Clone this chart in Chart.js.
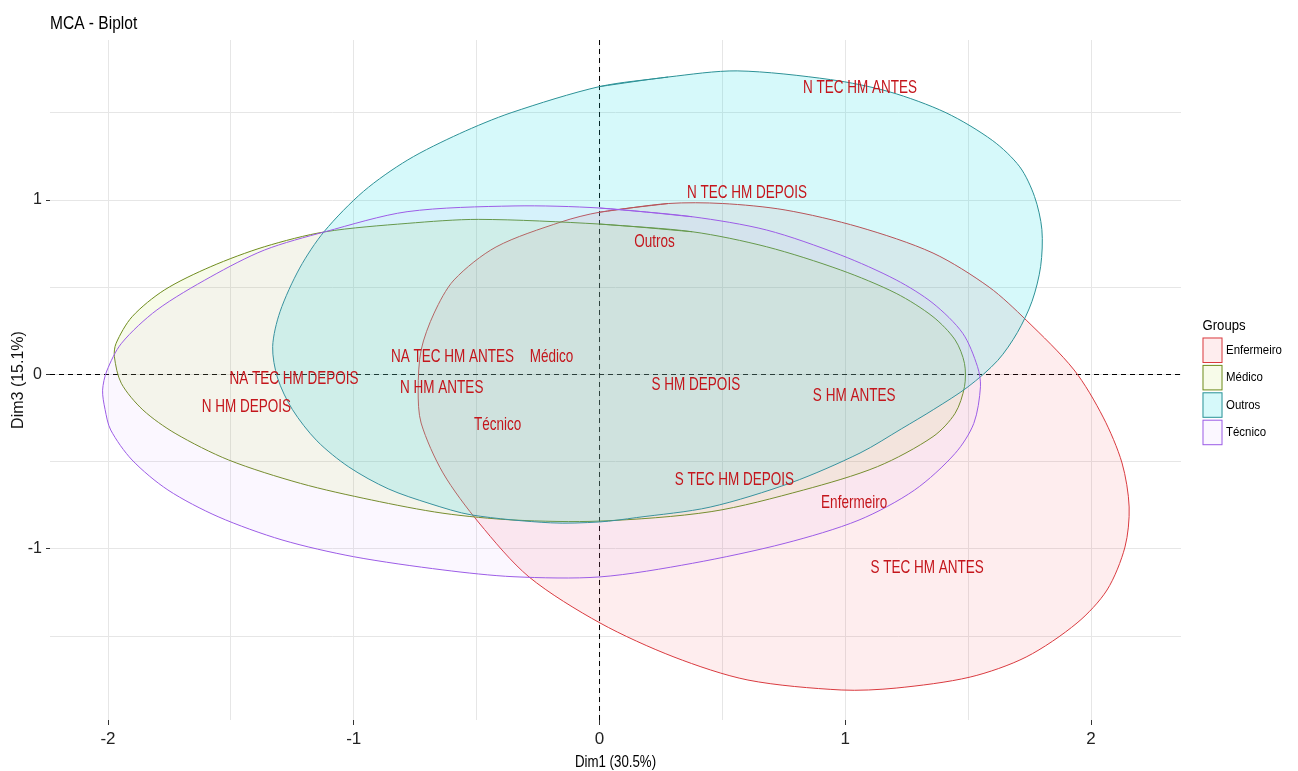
<!DOCTYPE html>
<html>
<head>
<meta charset="utf-8">
<title>MCA - Biplot</title>
<script src="https://cdn.jsdelivr.net/npm/chart.js@4/dist/chart.umd.min.js"></script>
<style>
  html, body { margin: 0; padding: 0; background: #ffffff; }
  #wrap { width: 1298px; height: 771px; position: relative; }
</style>
</head>
<body>
<div id="wrap"><canvas id="biplot"></canvas></div>
<script>
// Axis limits and grid positions (Dim1 horizontal, Dim3 vertical)
const X_LIMITS = [-2.236, 2.366];
const Y_LIMITS = [-1.98, 1.917];
const X_GRID = [-2, -1.5, -1, -0.5, 0, 0.5, 1, 1.5, 2];
const Y_GRID = [-1.5, -1, -0.5, 0, 0.5, 1, 1.5];

// Group names (legend order)
const GROUPS = ['Enfermeiro', 'Médico', 'Outros', 'Técnico'];

// Confidence ellipse outlines, one [Dim1, Dim3] pair per vertex
const ellipseEnfermeiro = [
  [0.00, 0.93], [0.28, 0.98], [0.50, 0.98], [0.755, 0.943], [1.056, 0.845], [1.357, 0.696],
  [1.585, 0.501], [1.736, 0.312], [1.931, 0.026], [2.049, -0.244], [2.126, -0.507], [2.155, -0.759],
  [2.138, -0.989], [2.065, -1.235], [1.943, -1.424], [1.736, -1.619], [1.508, -1.734], [1.207, -1.797],
  [0.983, -1.808], [0.604, -1.751], [0.303, -1.619], [0.002, -1.424], [-0.287, -1.160], [-0.490, -0.851],
  [-0.637, -0.564], [-0.726, -0.278], [-0.738, -0.089], [-0.726, 0.140], [-0.673, 0.352], [-0.592, 0.542],
  [-0.421, 0.731], [-0.157, 0.874]
];
const ellipseMedico = [
  [0.002, 0.862], [0.378, 0.818], [0.680, 0.732], [0.981, 0.599], [1.207, 0.465], [1.357, 0.331],
  [1.447, 0.198], [1.485, 0.064], [1.485, -0.070], [1.447, -0.222], [1.357, -0.356], [1.131, -0.528],
  [0.830, -0.662], [0.454, -0.786], [0.002, -0.840], [-0.348, -0.834], [-0.637, -0.795], [-0.928, -0.719],
  [-1.217, -0.624], [-1.509, -0.490], [-1.727, -0.337], [-1.858, -0.203], [-1.946, -0.050], [-1.974, 0.102],
  [-1.967, 0.179], [-1.902, 0.331], [-1.771, 0.484], [-1.582, 0.618], [-1.364, 0.732], [-1.116, 0.818],
  [-0.783, 0.866], [-0.492, 0.889]
];
const ellipseOutros = [
  [0.00, 1.65], [0.28, 1.705], [0.56, 1.74], [0.94, 1.69], [1.18, 1.62], [1.41, 1.50], [1.60, 1.34],
  [1.71, 1.19], [1.77, 1.02], [1.80, 0.83], [1.795, 0.62], [1.76, 0.42], [1.70, 0.24], [1.62, 0.08],
  [1.50, -0.07], [1.36, -0.20], [1.23, -0.31], [1.06, -0.45], [0.78, -0.62], [0.45, -0.76], [0.15, -0.82],
  [0.00, -0.845], [-0.20, -0.85], [-0.52, -0.805], [-0.69, -0.74], [-0.86, -0.655], [-1.02, -0.53],
  [-1.15, -0.38], [-1.25, -0.20], [-1.31, -0.02], [-1.33, 0.16], [-1.30, 0.36], [-1.22, 0.61],
  [-1.12, 0.82], [-0.96, 1.05], [-0.78, 1.23], [-0.57, 1.38], [-0.36, 1.50]
];
const ellipseTecnico = [
  [0.002, 0.954], [0.378, 0.904], [0.680, 0.828], [0.981, 0.685], [1.207, 0.542], [1.357, 0.408],
  [1.478, 0.236], [1.538, 0.045], [1.550, -0.070], [1.523, -0.280], [1.447, -0.452], [1.282, -0.662],
  [1.056, -0.834], [0.755, -0.967], [0.378, -1.082], [0.002, -1.160], [-0.348, -1.159], [-0.637, -1.120],
  [-1.001, -1.044], [-1.292, -0.948], [-1.552, -0.815], [-1.756, -0.662], [-1.902, -0.490], [-1.989, -0.318],
  [-2.012, -0.200], [-2.022, -0.090], [-2.005, 0.020], [-1.945, 0.179], [-1.801, 0.370], [-1.582, 0.560],
  [-1.364, 0.713], [-1.117, 0.818], [-0.783, 0.933], [-0.348, 0.966]
];

// Category / group coordinates shown as text
const POINT_LABELS = ['N TEC HM ANTES', 'N TEC HM DEPOIS', 'Outros', 'NA TEC HM ANTES', 'Médico',
  'NA TEC HM DEPOIS', 'N HM ANTES', 'N HM DEPOIS', 'Técnico', 'S HM DEPOIS', 'S HM ANTES',
  'S TEC HM DEPOIS', 'Enfermeiro', 'S TEC HM ANTES'];
const POINT_DIM1 = [1.060, 0.600, 0.224, -0.598, -0.195, -1.243, -0.642, -1.437, -0.415, 0.392, 1.036, 0.549, 1.036, 1.333];
const POINT_DIM3 = [1.640, 1.038, 0.759, 0.102, 0.102, -0.028, -0.079, -0.188, -0.289, -0.057, -0.123, -0.606, -0.736, -1.106];

// Styling
const FONT = "'Liberation Sans', Arial, Helvetica, sans-serif";
const GROUP_LINE = ['#D93A3F', '#6F8C1E', '#2C9196', '#9C5CE6'];
const GROUP_FILL = ['rgba(245,60,70,0.09)', 'rgba(175,220,40,0.10)', 'rgba(0,220,225,0.16)', 'rgba(210,150,255,0.08)'];
const LABEL_COLOR = '#C4161C';

// Close an outline: repeat the first two vertices so the spline joins smoothly
function closedOutline(vertices) {
  const pts = vertices.map(([x, y]) => ({ x, y }));
  return pts.concat([pts[0], pts[1]]);
}

const outlines = [ellipseEnfermeiro, ellipseMedico, ellipseOutros, ellipseTecnico];
const ellipseDatasets = GROUPS.map((g, i) => ({
  label: g,
  data: closedOutline(outlines[i]),
  showLine: true,
  fill: 'shape',
  backgroundColor: GROUP_FILL[i],
  borderColor: GROUP_LINE[i],
  borderWidth: 1,
  pointRadius: 0,
  pointHoverRadius: 0,
  tension: 0.3,
  order: 4 - i
}));

const refLines = [
  {
    label: 'dim1-zero',
    data: [{ x: X_LIMITS[0], y: 0 }, { x: X_LIMITS[1], y: 0 }],
    showLine: true, fill: false, borderColor: '#000000', borderWidth: 1,
    borderDash: [5, 4], pointRadius: 0, order: 10
  },
  {
    label: 'dim3-zero',
    data: [{ x: 0, y: Y_LIMITS[0] }, { x: 0, y: Y_LIMITS[1] }],
    showLine: true, fill: false, borderColor: '#000000', borderWidth: 1,
    borderDash: [5, 4], pointRadius: 0, order: 10
  }
];

const labelDataset = {
  label: 'categories',
  data: POINT_DIM1.map((x, i) => ({ x, y: POINT_DIM3[i] })),
  pointRadius: 0,
  pointHoverRadius: 0,
  showLine: false,
  order: 0
};

function drawScaledText(ctx, text, x, y, opts) {
  ctx.save();
  ctx.translate(x, y);
  ctx.scale(opts.sx, 1);
  ctx.font = `${opts.size}px ${FONT}`;
  ctx.fillStyle = opts.color;
  ctx.textAlign = opts.align || 'left';
  ctx.textBaseline = opts.baseline || 'alphabetic';
  ctx.fillText(text, 0, 0);
  ctx.restore();
}

// Text labels, title, x-axis title and group legend
const biplotDecor = {
  id: 'biplotDecor',
  afterDatasetsDraw(chart) {
    const ctx = chart.ctx;
    const idx = chart.data.datasets.indexOf(labelDataset);
    const meta = chart.getDatasetMeta(idx);
    meta.data.forEach((pt, i) => {
      drawScaledText(ctx, POINT_LABELS[i], pt.x, pt.y,
        { sx: 0.73, size: 18.5, color: LABEL_COLOR, align: 'center', baseline: 'middle' });
    });
  },
  afterDraw(chart) {
    const ctx = chart.ctx;
    const area = chart.chartArea;
    drawScaledText(ctx, 'MCA - Biplot', area.left, 28.5, { sx: 0.84, size: 18.5, color: '#000000' });
    drawScaledText(ctx, 'Dim1 (30.5%)', (area.left + area.right) / 2, 767,
      { sx: 0.83, size: 16, color: '#000000', align: 'center' });

    // legend
    const lx = 1202.5;
    drawScaledText(ctx, 'Groups', lx, 329.5, { sx: 0.94, size: 14, color: '#000000' });
    GROUPS.forEach((g, i) => {
      const top = 337.5 + i * 27.4;
      ctx.save();
      ctx.fillStyle = '#ffffff';
      ctx.fillRect(lx, top, 20, 25.5);
      ctx.fillStyle = GROUP_FILL[i];
      ctx.fillRect(lx, top, 20, 25.5);
      ctx.strokeStyle = GROUP_LINE[i];
      ctx.lineWidth = 1;
      ctx.strokeRect(lx + 0.5, top + 0.5, 19, 24.5);
      ctx.restore();
      drawScaledText(ctx, g, 1226, top + 13, { sx: 0.88, size: 13, color: '#000000', baseline: 'middle' });
    });
  }
};

const isWhole = v => Math.abs(v - Math.round(v)) < 1e-9;

new Chart(document.getElementById('biplot'), {
  type: 'scatter',
  data: { datasets: [...ellipseDatasets, ...refLines, labelDataset] },
  options: {
    responsive: true,
    maintainAspectRatio: false,
    animation: false,
    events: [],
    layout: { padding: { top: 40, right: 117, bottom: 0, left: 0 } },
    plugins: {
      legend: { display: false },
      tooltip: { enabled: false },
      title: { display: false }
    },
    scales: {
      x: {
        type: 'linear',
        min: X_LIMITS[0],
        max: X_LIMITS[1],
        afterBuildTicks: axis => { axis.ticks = X_GRID.map(v => ({ value: v })); },
        afterFit: axis => { axis.height = 51; },
        border: { display: false },
        grid: {
          color: '#E6E6E6',
          lineWidth: 1,
          drawTicks: true,
          tickLength: 5,
          tickColor: c => (c.tick && isWhole(c.tick.value)) ? '#333333' : 'rgba(0,0,0,0)'
        },
        ticks: {
          autoSkip: false,
          maxRotation: 0,
          padding: 4,
          color: '#222222',
          font: { family: FONT, size: 17 },
          callback: v => isWhole(v) ? String(Math.round(v)) : ''
        }
      },
      y: {
        type: 'linear',
        min: Y_LIMITS[0],
        max: Y_LIMITS[1],
        afterBuildTicks: axis => { axis.ticks = Y_GRID.map(v => ({ value: v })); },
        afterFit: axis => { axis.width = 50; },
        border: { display: false },
        grid: {
          color: '#E6E6E6',
          lineWidth: 1,
          drawTicks: true,
          tickLength: 4,
          tickColor: c => (c.tick && isWhole(c.tick.value)) ? '#333333' : 'rgba(0,0,0,0)'
        },
        ticks: {
          autoSkip: false,
          padding: 4,
          color: '#222222',
          font: { family: FONT, size: 16 },
          callback: v => isWhole(v) ? String(Math.round(v)) : ''
        },
        title: {
          display: true,
          text: 'Dim3 (15.1%)',
          color: '#111111',
          font: { family: FONT, size: 16 },
          padding: { top: 9, bottom: 0 }
        }
      }
    }
  },
  plugins: [biplotDecor]
});
</script>
</body>
</html>
